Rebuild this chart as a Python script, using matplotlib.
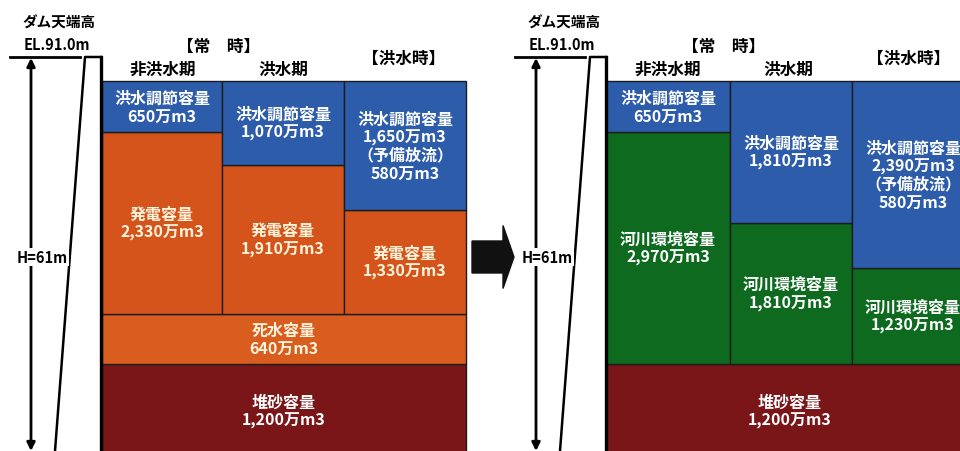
import matplotlib.pyplot as plt
from matplotlib.patches import FancyArrow

plt.rcParams['font.family'] = ['Noto Sans CJK JP', 'DejaVu Sans']

# storage volumes in 万m3
sediment = 1200
dead_water = 640
prerelease = 580

# current plan (left): 非洪水期, 洪水期, 洪水時
before_flood = [650, 1070, 1650]
before_power = [2330, 1910, 1330]

# after reallocation (right)
after_flood = [650, 1810, 2390]
after_river = [2970, 1810, 1230]

crest_title = "ダム天端高"
crest_label = "EL.91.0m"
height_label = "H=61m"
headers = ["非洪水期", "洪水期"]

BLUE = "#2d5daa"
ORANGE = "#d5541b"
DEAD = "#d95d1f"
RED = "#7a1518"
GREEN = "#0d6a1f"
EDGE = "#1c1c1c"


def vol(v):
    return f"{v:,}万m3"


fig = plt.figure(figsize=(9.6, 4.52), dpi=100)
ax = fig.add_axes([0, 0, 1, 1])
ax.set_xlim(0, 960)
ax.set_ylim(89, 5869)
ax.axis('off')

deco = fig.add_axes([0, 0, 1, 1], zorder=3)
deco.set_xlim(0, 960)
deco.set_ylim(452, 0)
deco.axis('off')
deco.patch.set_alpha(0)

box_txt = dict(ha='center', va='center', fontsize=11.5, fontweight='bold',
               linespacing=1.15, zorder=5)


def draw_panel(x0, edges, middle, middle_color, middle_name, flood,
               shared_layers, text_color_mid):
    # shared full-width layers at the bottom
    bottom = 0
    full_w = edges[-1] - edges[0]
    for value, color, name, tc in shared_layers:
        ax.bar(edges[0], value, width=full_w, bottom=bottom, align='edge',
               color=color, edgecolor=EDGE, linewidth=1)
        ax.text(edges[0] + full_w / 2, bottom + value / 2,
                f"{name}\n{vol(value)}", color=tc, **box_txt)
        bottom += value
    for i in range(3):
        left = edges[i]
        w = edges[i + 1] - edges[i]
        ax.bar(left, middle[i], width=w, bottom=bottom, align='edge',
               color=middle_color, edgecolor=EDGE, linewidth=1)
        ax.text(left + w / 2, bottom + middle[i] / 2,
                f"{middle_name}\n{vol(middle[i])}", color=text_color_mid, **box_txt)
        top = bottom + middle[i]
        ax.bar(left, flood[i], width=w, bottom=top, align='edge',
               color=BLUE, edgecolor=EDGE, linewidth=1)
        label = f"洪水調節容量\n{vol(flood[i])}"
        if i == 2:
            label += f"\n（予備放流）\n{vol(prerelease)}"
        ax.text(left + w / 2, top + flood[i] / 2, label, color='white', **box_txt)

    # dam body outline and dimension
    deco.plot([x0 - 75, x0 - 5], [58, 58], color='black', lw=2)
    deco.plot([x0 - 30, x0, x0 + 16], [452, 58, 58], color='black', lw=1.8)
    deco.plot([x0 + 16, x0 + 16], [58, 452], color='black', lw=2.4)
    deco.annotate('', xy=(x0 - 54, 59), xytext=(x0 - 54, 452),
                  arrowprops=dict(arrowstyle='<|-|>', color='black', lw=2,
                                  mutation_scale=12, shrinkA=0, shrinkB=0))
    deco.text(x0 - 43, 258, height_label, ha='center', va='center', fontsize=10.5,
              fontweight='bold', bbox=dict(facecolor='white', edgecolor='none', pad=1))
    deco.text(x0 - 26, 23, crest_title, ha='center', va='center', fontsize=10.5,
              fontweight='bold', style='italic')
    deco.text(x0 - 28, 45, crest_label, ha='center', va='center', fontsize=10.5,
              fontweight='bold')
    hdr = dict(ha='center', va='center', fontsize=12, fontweight='bold')
    deco.text(x0 + 134, 47, "【常　時】", **hdr)
    deco.text(x0 + 78, 70, headers[0], **hdr)
    deco.text(x0 + 198, 70, headers[1], **hdr)
    deco.text(x0 + 319, 59, "【洪水時】", **hdr)


draw_panel(85, [102, 222, 344, 466], before_power, ORANGE, "発電容量", before_flood,
           [(sediment, RED, "堆砂容量", 'white'),
            (dead_water, DEAD, "死水容量", '#fff4dc')], '#fff4dc')

draw_panel(590, [606, 730, 852, 974], after_river, GREEN, "河川環境容量", after_flood,
           [(sediment, RED, "堆砂容量", 'white')], 'white')

# transition arrow
deco.add_patch(FancyArrow(472, 258, 42, 0, width=32, head_width=63,
                          head_length=11, length_includes_head=True,
                          color='#111111'))

fig.savefig('out.png', dpi=100)
